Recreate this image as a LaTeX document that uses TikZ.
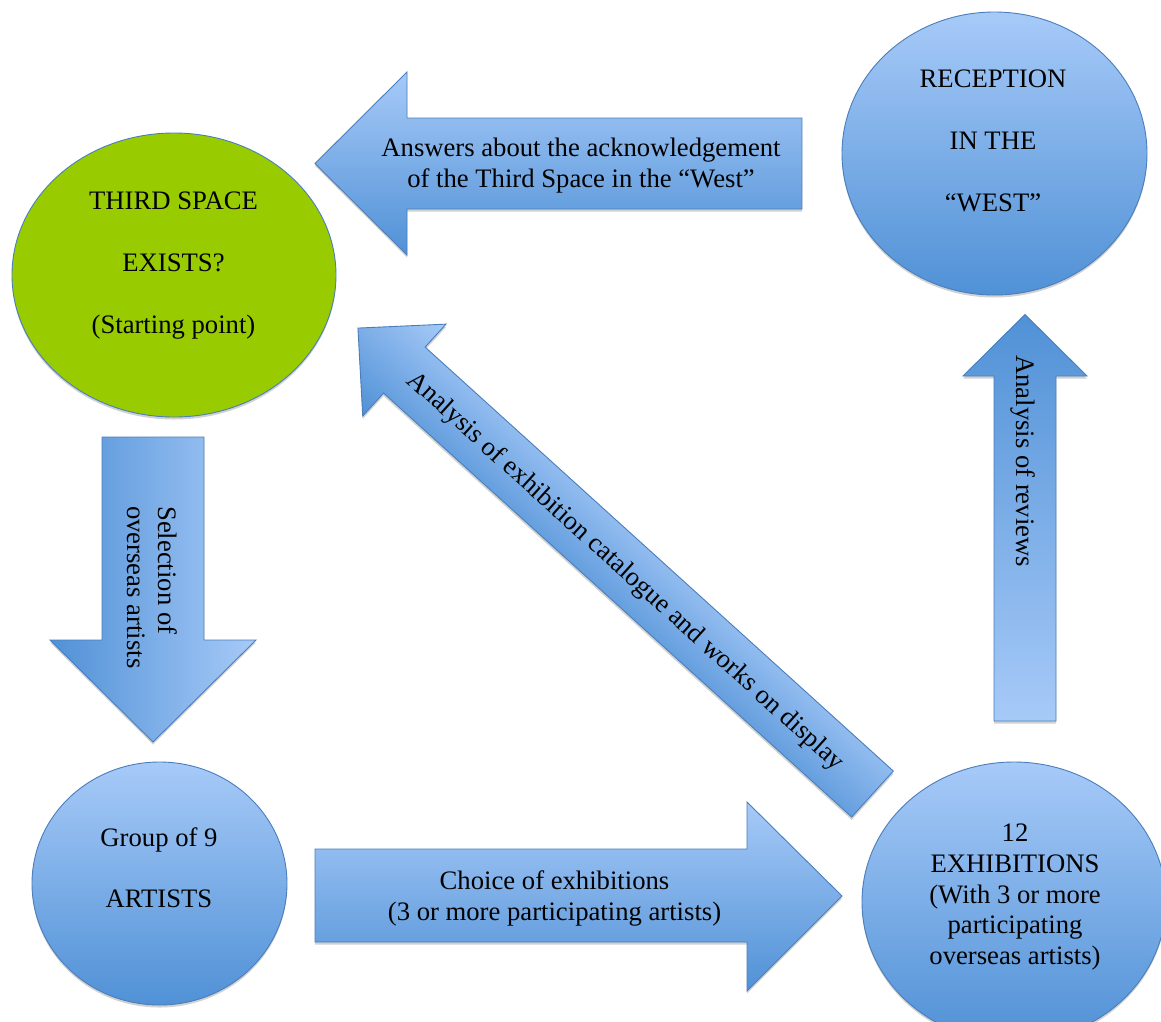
\documentclass[tikz,border=0pt]{standalone}
\usepackage{fontspec}
\setmainfont{Liberation Serif}
\usetikzlibrary{shapes.geometric,shadows}
\definecolor{bl}{RGB}{167,202,248}
\definecolor{bd}{RGB}{80,145,214}
\definecolor{edgeblue}{RGB}{74,126,187}
\definecolor{grn}{RGB}{153,204,0}
\begin{document}
\begin{tikzpicture}[x=1pt,y=-1pt,
  shp/.style={draw=edgeblue, line width=0.9pt},
  shad/.style={drop shadow={shadow xshift=0pt, shadow yshift=-2.5pt, opacity=0.18, fill=black}},
  blob/.style={ellipse, shp, shad, inner sep=0pt},
  bluegrad/.style={top color=bl, bottom color=bd},
  txt/.style={inner sep=0pt, font=\fontsize{26.67}{30.67}\selectfont, text=black},
  ]
\useasboundingbox (0,0) rectangle (1161,1021);
\clip (0,0) rectangle (1161,1021);
\fill[white] (0,0) rectangle (1161,1021);

% ---- block arrows ----
% top arrow (pointing left)
\shade[shp, shad, top color=bl, bottom color=bd]
  (315,163.5) -- (407,72) -- (407,118) -- (802,118) -- (802,209) -- (407,209) -- (407,255) -- cycle;
% down arrow
\shade[shp, shad, left color=bd, right color=bl]
  (102,437) -- (204,437) -- (204,640) -- (256,640) -- (153,742) -- (50,640) -- (102,640) -- cycle;
% bottom arrow (pointing right)
\shade[shp, shad, top color=bl, bottom color=bd]
  (315,849) -- (747,849) -- (747,802) -- (842,896) -- (747,991) -- (747,942) -- (315,942) -- cycle;
% up arrow
\shade[shp, shad, top color=bd, bottom color=bl]
  (994,721) -- (994,376) -- (963,376) -- (1025,314.5) -- (1087,376) -- (1056,376) -- (1056,721) -- cycle;
% diagonal arrow
\begin{scope}[transform canvas={shift={(872.5,794)}, rotate=137.84}]
\shade[shp, drop shadow={shadow xshift=-2pt, shadow yshift=2.2pt, opacity=0.18, fill=black},
       top color=bd, bottom color=bl]
  (0,-31) -- (631.6,-31) -- (631.6,-62) -- (694.2,0) -- (631.6,62) -- (631.6,31) -- (0,31) -- cycle;
\end{scope}

% ---- circles ----
\node[blob, fill=grn, minimum width=324pt, minimum height=284pt] (third) at (174,275) {};
\node[blob, bluegrad, minimum width=305pt, minimum height=283pt] (recep) at (994.5,153.5) {};
\node[blob, bluegrad, minimum width=255pt, minimum height=243pt] (group) at (159.5,883.5) {};
\node[blob, bluegrad, minimum width=304pt, minimum height=280pt] (exhib) at (1014,902) {};

% ---- circle texts ----
\node[txt, anchor=base] (t1) at (173.5,209.3) {THIRD SPACE};
\node[txt, anchor=base] (t2) at (173.5,271.5) {EXISTS?};
\node[txt, anchor=base] (t3) at (173.5,333.5) {(Starting point)};

\node[txt, anchor=base] (r1) at (993,87) {RECEPTION};
\node[txt, anchor=base] (r2) at (993,149) {IN THE};
\node[txt, anchor=base] (r3) at (993,211.5) {“WEST”};

\node[txt, anchor=base] (g1) at (159,846) {Group of 9};
\node[txt, anchor=base] (g2) at (159,907.7) {ARTISTS};

\node[txt, anchor=base] (e1) at (1015,841.7) {12};
\node[txt, anchor=base] (e2) at (1015,872.3) {EXHIBITIONS};
\node[txt, anchor=base] (e3) at (1015,903) {(With 3 or more};
\node[txt, anchor=base] (e4) at (1015,933.7) {participating};
\node[txt, anchor=base] (e5) at (1015,964.4) {overseas artists)};

% ---- arrow texts ----
\node[txt, anchor=base] (a1) at (581,156.7) {Answers about the acknowledgement};
\node[txt, anchor=base] (a2) at (581,187.7) {of the Third Space in the “West”};

\node[txt, anchor=base] (c1) at (554.5,889.3) {Choice of exhibitions};
\node[txt, anchor=base] (c2) at (554.5,920) {(3 or more participating artists)};

\node[txt, anchor=base west, rotate=-90] (s1) at (158,506) {Selection of};
\node[txt, anchor=base west, rotate=-90] (s2) at (127.5,506) {overseas artists};

\node[txt, anchor=base west, rotate=-90] (v1) at (1016,355) {Analysis of reviews};

\node[txt, anchor=base west, rotate=-42.16] (d1) at (405.7,381.9) {Analysis of exhibition catalogue and works on display};
\end{tikzpicture}
\end{document}
